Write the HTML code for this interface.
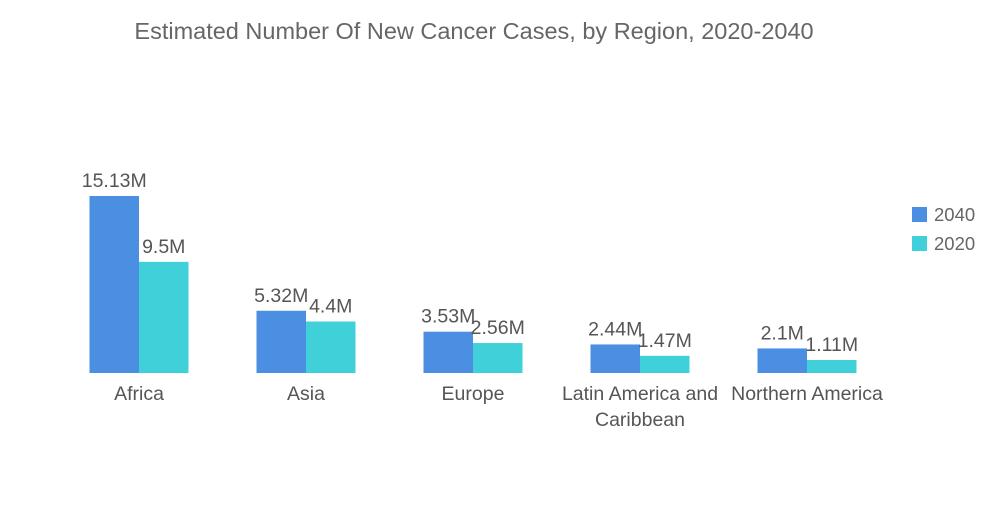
<!DOCTYPE html>
<html><head><meta charset="utf-8"><style>
body{margin:0;background:#fff;font-family:"Liberation Sans",sans-serif;}
</style></head><body>
<svg width="1000" height="504" xmlns="http://www.w3.org/2000/svg" id="chart">
<text x="474" y="39" text-anchor="middle" font-size="23.5" fill="#666">Estimated Number Of New Cancer Cases, by Region, 2020-2040</text>
<g id="bars"></g>
<g>
<rect x="912" y="207" width="15" height="15" fill="#4a8fe2"/>
<text x="934" y="221" font-size="18.5" fill="#666">2040</text>
<rect x="912" y="236" width="15" height="15" fill="#40d0d9"/>
<text x="934" y="250" font-size="18.5" fill="#666">2020</text>
</g>
</svg>
<script>
const categories=[["Africa"],["Asia"],["Europe"],["Latin America and","Caribbean"],["Northern America"]];
const values2040=[15.13,5.32,3.53,2.44,2.1];
const values2020=[9.5,4.4,2.56,1.47,1.11];
const labels2040=["15.13M","5.32M","3.53M","2.44M","2.1M"];
const labels2020=["9.5M","4.4M","2.56M","1.47M","1.11M"];
const NS="http://www.w3.org/2000/svg";
const g=document.getElementById('bars');
const baseY=373, pxPerM=11.7, x0=139, step=167, bw=49.5;
function y(v){return baseY-v*pxPerM;}
function mk(t,a){const e=document.createElementNS(NS,t);for(const k in a)e.setAttribute(k,a[k]);g.appendChild(e);return e;}
categories.forEach((c,i)=>{
  const cx=x0+i*step;
  [[values2040,labels2040,"#4a8fe2",cx-bw,"2040"],[values2020,labels2020,"#40d0d9",cx,"2020"]].forEach(s=>{
    const v=s[0][i];
    const r=mk('rect',{x:s[3],y:y(v),width:bw,height:v*pxPerM,fill:s[2]});
    
    
    const t=mk('text',{x:s[3]+bw/2,y:y(v)-9,'text-anchor':'middle','font-size':19.5,fill:'#555'});
    t.textContent=s[1][i];
    
    
  });
  c.forEach((line,j)=>{
    const t=mk('text',{x:cx,y:400+j*26,'text-anchor':'middle','font-size':19.5,fill:'#555'});
    t.textContent=line;
    
    
  });
});
</script>
</body></html>
